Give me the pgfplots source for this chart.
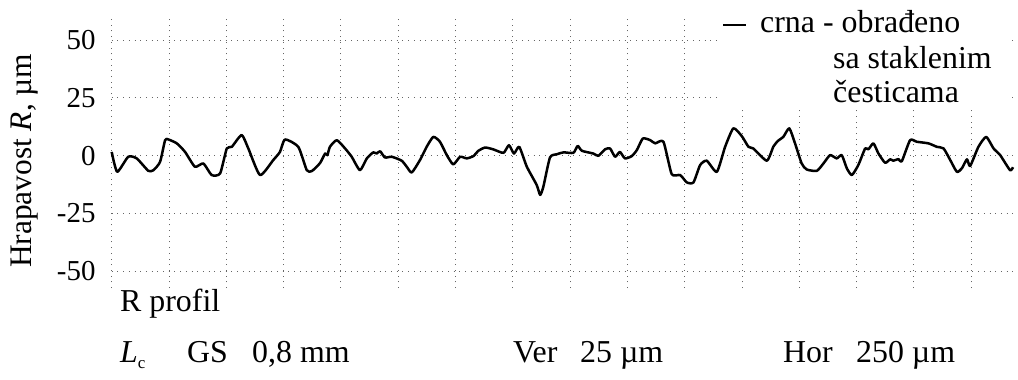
\documentclass[border=0pt]{standalone}
\usepackage{fontspec}
\setmainfont{Liberation Serif}
\usepackage{pgfplots}
\pgfplotsset{compat=1.18}
\begin{document}
\begin{tikzpicture}[x=1bp,y=1bp]
\path[use as bounding box] (0,0) rectangle (1018,379);
\begin{axis}[
  at={(111.7bp,91bp)}, anchor=south west,
  scale only axis, width=901.3bp, height=271bp,
  xmin=0, xmax=3932, ymin=-57.3, ymax=60,
  xtick={0,250,...,3750}, xticklabels={},
  ytick={-50,-25,0,25,50}, yticklabels={-50,-25,0,25,50},
  grid=major,
  grid style={black!60, line width=1bp, dash pattern=on 1bp off 4.7bp},
  axis line style={draw=none},
  major tick length=0pt,
  yticklabel style={font=\fontsize{29}{29}\selectfont, anchor=east, inner sep=0pt, xshift=-16bp},
  ylabel={Hrapavost \textit{R}, µm},
  every axis y label/.style={at={(axis description cs:-0.097,0.469)}, rotate=90, anchor=center, font=\fontsize{31.5}{31.5}\selectfont},
  clip=false,
]
\addplot[black, line width=2.5bp, line join=round, smooth, tension=0.35] table {
x y
0 1.6
24 -7
72 -0.5
109 -1.2
160 -6.6
182 -6.3
211 -2.7
233 6.7
247 7.0
284 5.3
320 1.6
363 -4.8
400 -3.4
436 -8.4
473 -7.7
502 3.1
524 3.8
567 8.9
596 3.1
647 -8.4
705 -1.9
734 1.6
756 7.0
814 3.8
851 -6.3
873 -6.7
909 -3.2
931 0.9
941 0.2
952 3.8
982 6.7
1018 3.1
1047 -0.5
1083 -6.3
1113 -1.2
1141 1.4
1156 0.9
1171 1.9
1192 -0.8
1222 -0.5
1265 -2.2
1287 -4.8
1309 -7.3
1345 -1.9
1374 3.8
1403 8.1
1432 6.0
1462 0.2
1490 -3.8
1520 -0.5
1549 -1.2
1578 -0.2
1600 2.1
1629 3.5
1665 2.7
1709 1.2
1733 4.5
1755 0.9
1778 3.8
1811 -4.8
1854 -12.7
1869 -17
1883 -13.5
1912 -0.8
1942 0.6
1971 1.4
2014 1.2
2033 4.2
2051 2.1
2101 0.9
2123 -0.1
2152 2.7
2174 3.1
2196 -0.5
2217 1.6
2239 -1.2
2269 -0.2
2291 2.4
2317 7.4
2349 6.7
2371 5.3
2407 6.0
2443 -8.0
2480 -8.4
2509 -11.6
2538 -11.6
2567 -4.1
2596 -2.2
2640 -7
2676 3.8
2712 11.8
2749 8.4
2778 3.8
2799 3.1
2858 -2.2
2887 4.0
2908 6.5
2930 8.1
2956 11.8
2981 5.3
3010 -3.4
3032 -6
3076 -6.6
3105 -3.4
3134 0.2
3163 -1.2
3185 0.2
3207 -5.5
3229 -8.4
3257 -4.1
3287 3.1
3301 2.7
3323 5.3
3345 0.9
3374 -3.1
3396 -1.6
3410 -2.2
3432 -1.5
3447 -2.4
3483 6.7
3512 6.0
3563 5.3
3600 3.8
3629 3.1
3658 -1.9
3687 -7
3709 -5.5
3731 -1.6
3745 -4.5
3781 3.8
3815 8.1
3847 3.1
3876 0.2
3919 -6.3
3932 -5.0
};
\end{axis}
\fill[white] (717,269) rectangle (1012,379);
\draw[black, line width=2.2bp] (723,354) -- (746,354);
\begin{scope}[every node/.style={inner sep=0pt, anchor=base west, font=\fontsize{32}{32}\selectfont}]
\node at (760,347) {crna - obrađeno};
\node at (833,311) {sa staklenim};
\node at (833,277) {česticama};
\node at (120,68) {R profil};
\node at (120,17) {\textit{L}\raisebox{-6bp}{\fontsize{17}{17}\selectfont c}};
\node at (187,17) {GS};
\node at (252,17) {0,8 mm};
\node at (513,17) {Ver};
\node at (580,17) {25 µm};
\node at (783,17) {Hor};
\node at (856,17) {250 µm};
\end{scope}
\end{tikzpicture}
\end{document}
